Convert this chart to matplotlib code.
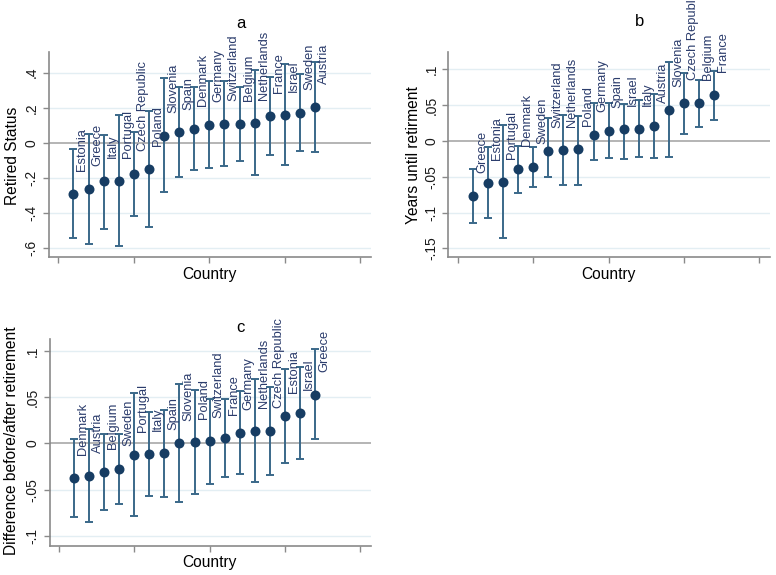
import matplotlib
matplotlib.use('Agg')
import matplotlib.pyplot as plt
import numpy as np

plt.rcParams['font.family'] = ['Liberation Sans', 'DejaVu Sans']

# ---------------- Panel a: Retired Status ----------------
countries_a = ['Estonia', 'Greece', 'Italy', 'Portugal', 'Czech Republic', 'Poland',
               'Slovenia', 'Spain', 'Denmark', 'Germany', 'Switzerland', 'Belgium',
               'Netherlands', 'France', 'Israel', 'Sweden', 'Austria']
est_a = [-0.290, -0.265, -0.219, -0.215, -0.179, -0.150, 0.040, 0.059, 0.080, 0.101,
         0.107, 0.107, 0.112, 0.152, 0.158, 0.171, 0.206]
lo_a = [-0.543, -0.579, -0.490, -0.589, -0.417, -0.480, -0.280, -0.194, -0.156, -0.143,
        -0.133, -0.101, -0.181, -0.069, -0.128, -0.044, -0.053]
hi_a = [-0.036, 0.053, 0.046, 0.156, 0.061, 0.181, 0.368, 0.316, 0.316, 0.350,
        0.352, 0.318, 0.413, 0.377, 0.450, 0.390, 0.461]
yticks_a = [0.4, 0.2, 0.0, -0.2, -0.4, -0.6]
yticklabels_a = ['.4', '.2', '0', '-.2', '-.4', '-.6']

# ---------------- Panel b: Years until retirment ----------------
countries_b = ['Greece', 'Estonia', 'Portugal', 'Denmark', 'Sweden', 'Switzerland',
               'Netherlands', 'Poland', 'Germany', 'Spain', 'Israel', 'Italy', 'Austria',
               'Slovenia', 'Czech Republic', 'Belgium', 'France']
est_b = [-0.0762, -0.0591, -0.0572, -0.0395, -0.0363, -0.0140, -0.0126, -0.0107, 0.0088,
         0.0140, 0.0163, 0.0167, 0.0205, 0.0428, 0.0526, 0.0526, 0.0637]
lo_b = [-0.114, -0.107, -0.135, -0.073, -0.065, -0.051, -0.061, -0.061, -0.0265,
        -0.024, -0.0247, -0.0223, -0.024, -0.023, 0.0102, 0.020, 0.0298]
hi_b = [-0.039, -0.008, 0.0219, -0.0070, -0.0079, 0.0316, 0.0363, 0.0349, 0.0526,
        0.0526, 0.0521, 0.0567, 0.0651, 0.110, 0.0944, 0.0850, 0.0975]
yticks_b = [0.1, 0.05, 0.0, -0.05, -0.1, -0.15]
yticklabels_b = ['.1', '.05', '0', '-.05', '-.1', '-.15']

# ---------------- Panel c: Difference before/after retirement ----------------
countries_c = ['Denmark', 'Austria', 'Belgium', 'Sweden', 'Portugal', 'Italy', 'Spain',
               'Slovenia', 'Poland', 'Switzerland', 'France', 'Germany', 'Netherlands',
               'Czech Republic', 'Estonia', 'Israel', 'Greece']
est_c = [-0.0378, -0.0349, -0.0313, -0.0273, -0.0122, -0.0115, -0.0108, 0.0000, 0.0011,
         0.0029, 0.0058, 0.0112, 0.0137, 0.0137, 0.0299, 0.0331, 0.0529]
lo_c = [-0.0799, -0.0853, -0.0720, -0.0651, -0.0781, -0.0568, -0.0576, -0.0630, -0.0547,
        -0.0435, -0.0363, -0.0331, -0.0421, -0.0338, -0.0209, -0.0165, 0.0047]
hi_c = [0.0050, 0.0158, 0.0097, 0.0104, 0.0547, 0.0345, 0.0360, 0.0640, 0.0576,
        0.0486, 0.0486, 0.0565, 0.0701, 0.0615, 0.0806, 0.0824, 0.1018]
yticks_c = [0.1, 0.05, 0.0, -0.05, -0.1]
yticklabels_c = ['.1', '.05', '0', '-.05', '-.1']

W, H = 776, 575
fig = plt.figure(figsize=(W / 100, H / 100), dpi=100)

MARKER = '#173d63'
BAR = '#3a6889'
LABEL = '#2b3c6c'
GRID = '#e3eef3'
ZERO = '#a8a8a8'
SPINE = '#8a8a8a'


def px_axes(l, t, r, b):
    return fig.add_axes([l / W, 1 - b / H, (r - l) / W, (b - t) / H])


def panel(ax, names, est, lo, hi, yticks, yticklabels, ylim):
    x = np.arange(1, len(names) + 1)
    est = np.array(est)
    lo = np.array(lo)
    hi = np.array(hi)
    for yt in yticks:
        if yt == 0:
            ax.axhline(0, color=ZERO, lw=1.2, zorder=1)
        else:
            ax.axhline(yt, color=GRID, lw=1.0, zorder=0)
    ax.errorbar(x, est, yerr=[est - lo, hi - est], fmt='none', ecolor=BAR,
                elinewidth=1.4, capsize=2.7, capthick=1.4, zorder=2)
    ax.plot(x, est, 'o', color=MARKER, markersize=7.2, zorder=3, markeredgewidth=0)
    for xi, yi, n in zip(x, est, names):
        ax.annotate(n, (xi, yi), xytext=(6.5, 16.5), textcoords='offset points',
                    rotation=90, ha='center', va='bottom', fontsize=9.3,
                    color=LABEL, annotation_clip=False, zorder=4)
    ax.set_xlim(-0.62, 20.7)
    ax.set_ylim(*ylim)
    ax.set_xticks([0, 5, 10, 15, 20])
    ax.set_xticklabels([])
    ax.set_yticks(yticks)
    ax.set_yticklabels(yticklabels, rotation=90, va='center')
    for s in ['top', 'right']:
        ax.spines[s].set_visible(False)
    for s in ['left', 'bottom']:
        ax.spines[s].set_color(SPINE)
        ax.spines[s].set_linewidth(1.2)
    ax.tick_params(axis='both', direction='out', length=4.3, width=1.0,
                   color=SPINE, labelsize=10, labelcolor='#1a1a1a', pad=3)
    ax.set_facecolor('white')


ax_a = px_axes(49, 52, 371, 257)
panel(ax_a, countries_a, est_a, lo_a, hi_a, yticks_a, yticklabels_a, (-0.651, 0.518))

ax_b = px_axes(448.5, 52, 770, 257)
panel(ax_b, countries_b, est_b, lo_b, hi_b, yticks_b, yticklabels_b, (-0.162, 0.124))

ax_c = px_axes(49.5, 339, 371, 546)
panel(ax_c, countries_c, est_c, lo_c, hi_c, yticks_c, yticklabels_c, (-0.111, 0.113))


def ftext(x, y, s, **kw):
    fig.text(x / W, 1 - y / H, s, **kw)


# Titles
ftext(240.5, 24, 'a', fontsize=12, ha='center', va='center')
ftext(640, 22, 'b', fontsize=12, ha='center', va='center')
ftext(240, 327, 'c', fontsize=12, ha='center', va='center')

# x labels
ftext(209, 275, 'Country', fontsize=11.2, ha='center', va='center')
ftext(608, 275, 'Country', fontsize=11.2, ha='center', va='center')
ftext(209, 562, 'Country', fontsize=11.2, ha='center', va='center')

# y labels
ftext(13, 156, 'Retired Status', fontsize=11.2, ha='center', va='center', rotation=90)
ftext(413, 155, 'Years until retirment', fontsize=11.2, ha='center', va='center', rotation=90)
ftext(12, 441, 'Difference before/after retirement', fontsize=11.2, ha='center',
      va='center', rotation=90)

fig.savefig('out.png', dpi=100, facecolor='white')
